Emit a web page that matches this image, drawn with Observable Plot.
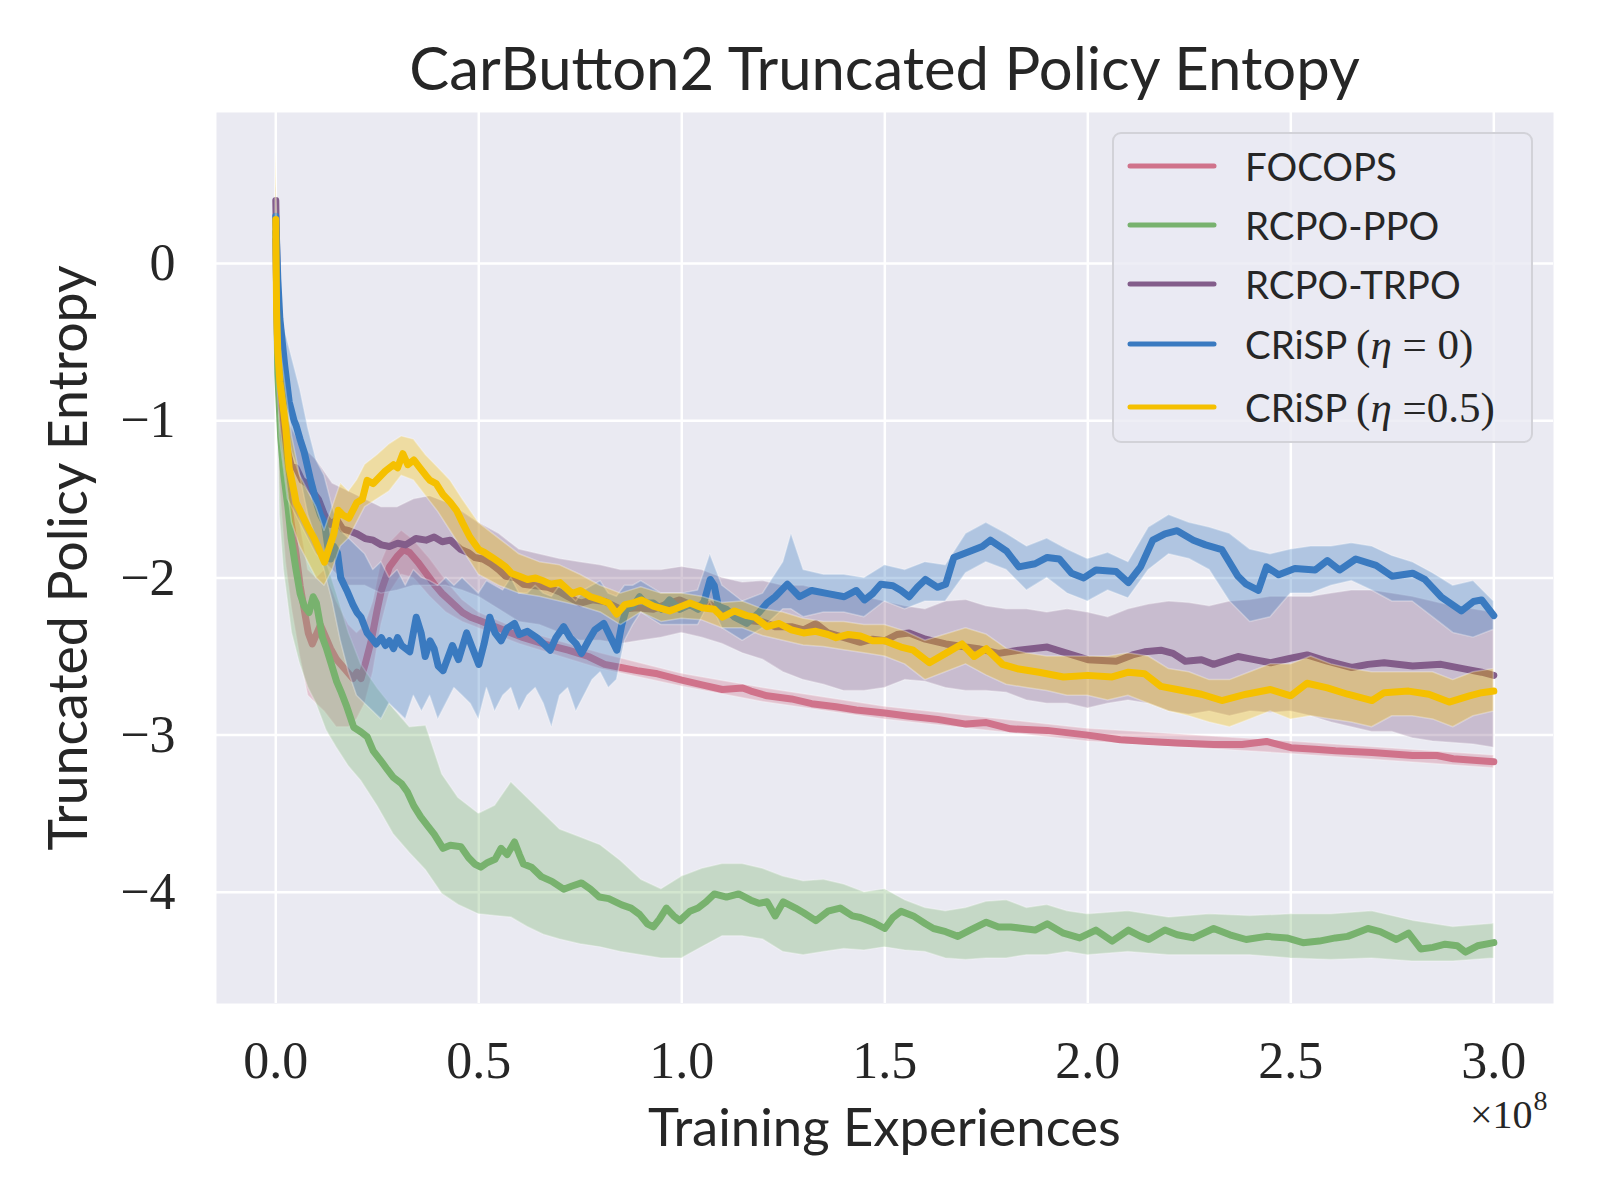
<!DOCTYPE html>
<html><head><meta charset="utf-8">
<script src="https://cdn.jsdelivr.net/npm/d3@7"></script>
<script src="https://cdn.jsdelivr.net/npm/@observablehq/plot@0.6"></script>
<style>
body{margin:0;background:#fff;}
#wrap{position:relative;width:1600px;height:1200px;background:#fff;}
#titlebox{display:block;}
#chart svg{display:block;}
#legend{position:absolute;left:1112px;top:132px;width:421px;height:311px;background:rgba(234,234,242,0.8);border:2px solid #d2d2d8;border-radius:9px;box-sizing:border-box;}
.row{position:absolute;left:0;height:50px;width:100%;}
.row svg{position:absolute;left:13px;top:20px;}
.row .lab{position:absolute;left:131px;top:0;line-height:50px;font-family:Lato,"Noto Sans",sans-serif;color:#262626;white-space:nowrap;}
.m{font-family:"Liberation Serif",serif;font-size:1.12em;}
.mi{font-family:"Liberation Serif",serif;font-style:italic;font-size:1.12em;}
</style></head>
<body>
<div id="wrap">
<svg id="titlebox" width="1600" height="112"><text id="title" x="884.5" y="90" text-anchor="middle" font-family="Lato, 'Noto Sans', sans-serif" font-size="58" fill="#262626">CarButton2 Truncated Policy Entopy</text></svg>
<div id="chart"></div>
<div id="legend"></div>
</div>
<script>
const xTicks = [0, 0.5, 1.0, 1.5, 2.0, 2.5, 3.0];
const yTicks = [0, -1, -2, -3, -4];
const seriesNames = ["FOCOPS", "RCPO-PPO", "RCPO-TRPO", "CRiSP (η = 0)", "CRiSP (η =0.5)"];
const seriesColors = ["#d0738b", "#78b26e", "#835d8a", "#3a7ac0", "#f5c000"];

// [x (×1e8), mean]
const focopsMean = [[0,0.15],[0.004,-0.45],[0.008,-0.8],[0.015,-1.1],[0.025,-1.4],[0.038,-1.65],[0.05,-1.85],[0.06,-2.05],[0.07,-2.2],[0.08,-2.35],[0.09,-2.42],[0.1,-2.36],[0.11,-2.3],[0.12,-2.36],[0.135,-2.45],[0.15,-2.52],[0.17,-2.58],[0.19,-2.64],[0.2,-2.6],[0.21,-2.64],[0.22,-2.55],[0.235,-2.4],[0.25,-2.2],[0.26,-2.08],[0.28,-1.93],[0.3,-1.86],[0.315,-1.82],[0.33,-1.84],[0.35,-1.9],[0.37,-1.97],[0.39,-2.04],[0.41,-2.1],[0.435,-2.16],[0.46,-2.22],[0.48,-2.25],[0.5,-2.27],[0.52,-2.29],[0.56,-2.33],[0.61,-2.38],[0.66,-2.42],[0.72,-2.46],[0.77,-2.5],[0.81,-2.55],[0.85,-2.57],[0.89,-2.59],[0.94,-2.61],[1.0,-2.65],[1.05,-2.68],[1.1,-2.71],[1.15,-2.7],[1.17,-2.72],[1.21,-2.75],[1.27,-2.77],[1.32,-2.8],[1.38,-2.82],[1.43,-2.84],[1.5,-2.86],[1.56,-2.88],[1.63,-2.9],[1.7,-2.93],[1.75,-2.92],[1.81,-2.96],[1.9,-2.97],[2.0,-3.0],[2.08,-3.03],[2.15,-3.04],[2.22,-3.05],[2.31,-3.06],[2.38,-3.06],[2.44,-3.04],[2.5,-3.08],[2.56,-3.09],[2.61,-3.1],[2.7,-3.11],[2.8,-3.13],[2.86,-3.13],[2.9,-3.15],[2.95,-3.16],[3.0,-3.17]];
// [x, lower, upper]
const focopsBand = [[0,-0.3,0.5],[0.01,-1.4,-0.5],[0.025,-1.9,-1.0],[0.04,-2.2,-1.3],[0.06,-2.5,-1.65],[0.08,-2.75,-1.95],[0.1,-2.8,-2.0],[0.12,-2.85,-1.95],[0.15,-2.95,-2.15],[0.18,-2.95,-2.3],[0.2,-2.9,-2.35],[0.22,-2.8,-2.3],[0.24,-2.6,-2.15],[0.26,-2.3,-1.9],[0.28,-2.1,-1.78],[0.31,-1.98,-1.7],[0.34,-2.0,-1.76],[0.38,-2.12,-1.88],[0.42,-2.22,-2.02],[0.46,-2.28,-2.14],[0.5,-2.32,-2.22],[0.6,-2.42,-2.33],[0.8,-2.58,-2.48],[1.0,-2.69,-2.61],[1.2,-2.79,-2.7],[1.5,-2.9,-2.82],[2.0,-3.04,-2.96],[2.5,-3.12,-3.04],[3.0,-3.21,-3.13]];

const ppoMean = [[0,0.2],[0.005,-0.7],[0.012,-1.1],[0.02,-1.35],[0.03,-1.55],[0.038,-1.75],[0.05,-1.95],[0.06,-2.1],[0.07,-2.18],[0.082,-2.22],[0.092,-2.12],[0.1,-2.16],[0.115,-2.38],[0.125,-2.45],[0.137,-2.55],[0.15,-2.66],[0.16,-2.72],[0.175,-2.82],[0.192,-2.95],[0.21,-2.98],[0.225,-3.01],[0.24,-3.1],[0.258,-3.16],[0.275,-3.22],[0.29,-3.27],[0.31,-3.31],[0.324,-3.36],[0.34,-3.45],[0.357,-3.52],[0.375,-3.58],[0.39,-3.63],[0.412,-3.72],[0.43,-3.7],[0.456,-3.71],[0.475,-3.78],[0.49,-3.82],[0.505,-3.84],[0.522,-3.81],[0.54,-3.79],[0.555,-3.72],[0.57,-3.76],[0.588,-3.68],[0.6,-3.76],[0.61,-3.82],[0.63,-3.84],[0.654,-3.9],[0.68,-3.93],[0.709,-3.98],[0.73,-3.96],[0.753,-3.94],[0.775,-3.98],[0.797,-4.03],[0.82,-4.04],[0.852,-4.08],[0.875,-4.1],[0.896,-4.14],[0.915,-4.2],[0.93,-4.22],[0.945,-4.17],[0.962,-4.1],[0.98,-4.15],[0.995,-4.18],[1.02,-4.12],[1.04,-4.1],[1.06,-4.06],[1.08,-4.01],[1.11,-4.03],[1.14,-4.01],[1.17,-4.05],[1.19,-4.07],[1.21,-4.06],[1.23,-4.15],[1.25,-4.06],[1.28,-4.1],[1.3,-4.13],[1.33,-4.18],[1.36,-4.12],[1.39,-4.1],[1.42,-4.15],[1.44,-4.16],[1.47,-4.19],[1.5,-4.23],[1.52,-4.16],[1.54,-4.12],[1.57,-4.15],[1.6,-4.2],[1.62,-4.23],[1.65,-4.25],[1.68,-4.28],[1.71,-4.24],[1.75,-4.19],[1.78,-4.22],[1.81,-4.22],[1.84,-4.23],[1.87,-4.24],[1.9,-4.2],[1.94,-4.26],[1.98,-4.29],[2.02,-4.24],[2.06,-4.31],[2.1,-4.24],[2.13,-4.28],[2.15,-4.3],[2.19,-4.24],[2.22,-4.27],[2.26,-4.29],[2.31,-4.23],[2.35,-4.27],[2.39,-4.3],[2.44,-4.28],[2.49,-4.29],[2.53,-4.32],[2.57,-4.31],[2.61,-4.29],[2.64,-4.28],[2.69,-4.23],[2.72,-4.25],[2.76,-4.3],[2.79,-4.26],[2.82,-4.36],[2.85,-4.35],[2.88,-4.33],[2.91,-4.34],[2.93,-4.38],[2.96,-4.34],[3.0,-4.32]];
const ppoBand = [[0,-0.3,0.5],[0.01,-1.6,-0.6],[0.02,-1.95,-1.0],[0.04,-2.35,-1.35],[0.06,-2.55,-1.6],[0.08,-2.7,-1.7],[0.1,-2.8,-1.75],[0.125,-2.97,-1.9],[0.15,-3.08,-2.1],[0.18,-3.2,-2.35],[0.21,-3.29,-2.55],[0.25,-3.45,-2.7],[0.29,-3.63,-2.83],[0.33,-3.75,-2.95],[0.37,-3.86,-2.94],[0.41,-4.01,-3.25],[0.45,-4.08,-3.4],[0.5,-4.14,-3.5],[0.54,-4.15,-3.45],[0.58,-4.16,-3.3],[0.62,-4.22,-3.4],[0.66,-4.27,-3.5],[0.7,-4.3,-3.6],[0.75,-4.33,-3.65],[0.8,-4.35,-3.7],[0.85,-4.38,-3.8],[0.9,-4.4,-3.92],[0.95,-4.42,-3.98],[1.0,-4.42,-3.9],[1.05,-4.35,-3.85],[1.1,-4.28,-3.82],[1.15,-4.28,-3.82],[1.2,-4.3,-3.85],[1.25,-4.38,-3.9],[1.3,-4.4,-3.93],[1.35,-4.38,-3.92],[1.4,-4.36,-3.95],[1.45,-4.37,-4.0],[1.5,-4.35,-3.98],[1.55,-4.37,-4.05],[1.6,-4.38,-4.1],[1.65,-4.42,-4.12],[1.7,-4.43,-4.1],[1.75,-4.42,-4.06],[1.8,-4.42,-4.05],[1.85,-4.4,-4.1],[1.9,-4.4,-4.08],[1.95,-4.38,-4.12],[2.0,-4.4,-4.14],[2.1,-4.38,-4.12],[2.2,-4.4,-4.16],[2.3,-4.4,-4.14],[2.4,-4.4,-4.15],[2.5,-4.42,-4.14],[2.6,-4.43,-4.14],[2.7,-4.42,-4.12],[2.8,-4.44,-4.18],[2.9,-4.44,-4.22],[3.0,-4.42,-4.2]];

const trpoMean = [[0,0.4],[0.004,-0.2],[0.008,-0.6],[0.014,-0.9],[0.02,-1.05],[0.03,-1.2],[0.038,-1.29],[0.05,-1.3],[0.065,-1.38],[0.077,-1.4],[0.09,-1.45],[0.105,-1.5],[0.12,-1.6],[0.135,-1.66],[0.15,-1.63],[0.165,-1.69],[0.18,-1.7],[0.2,-1.72],[0.22,-1.75],[0.24,-1.76],[0.26,-1.79],[0.28,-1.8],[0.3,-1.78],[0.32,-1.79],[0.345,-1.75],[0.37,-1.76],[0.39,-1.74],[0.41,-1.77],[0.43,-1.76],[0.456,-1.82],[0.475,-1.84],[0.49,-1.87],[0.51,-1.88],[0.53,-1.91],[0.55,-1.95],[0.566,-1.99],[0.59,-2.0],[0.61,-2.04],[0.64,-2.05],[0.67,-2.06],[0.7,-2.09],[0.72,-2.12],[0.75,-2.16],[0.78,-2.14],[0.81,-2.15],[0.85,-2.2],[0.89,-2.19],[0.93,-2.2],[0.96,-2.17],[0.995,-2.14],[1.03,-2.18],[1.07,-2.17],[1.1,-2.23],[1.13,-2.22],[1.16,-2.27],[1.2,-2.28],[1.23,-2.31],[1.27,-2.31],[1.3,-2.33],[1.33,-2.29],[1.36,-2.35],[1.4,-2.38],[1.44,-2.41],[1.47,-2.39],[1.5,-2.4],[1.53,-2.36],[1.56,-2.35],[1.6,-2.39],[1.65,-2.42],[1.7,-2.44],[1.73,-2.45],[1.78,-2.48],[1.83,-2.46],[1.9,-2.44],[1.95,-2.48],[2.0,-2.52],[2.07,-2.53],[2.11,-2.49],[2.14,-2.47],[2.18,-2.46],[2.21,-2.48],[2.24,-2.53],[2.28,-2.52],[2.31,-2.55],[2.37,-2.5],[2.41,-2.52],[2.45,-2.54],[2.5,-2.51],[2.54,-2.49],[2.59,-2.53],[2.65,-2.57],[2.69,-2.55],[2.73,-2.54],[2.8,-2.56],[2.87,-2.55],[2.93,-2.58],[2.97,-2.6],[3.0,-2.62]];
const trpoBand = [[0,0.2,0.55],[0.01,-1.1,-0.4],[0.03,-1.5,-1.0],[0.06,-1.65,-1.15],[0.1,-1.85,-1.25],[0.14,-1.95,-1.4],[0.18,-2.05,-1.45],[0.22,-2.05,-1.5],[0.26,-2.1,-1.55],[0.3,-2.08,-1.55],[0.34,-2.05,-1.5],[0.38,-2.05,-1.48],[0.42,-2.05,-1.52],[0.46,-2.08,-1.58],[0.5,-2.12,-1.65],[0.55,-2.2,-1.72],[0.6,-2.28,-1.82],[0.65,-2.3,-1.85],[0.7,-2.35,-1.88],[0.75,-2.4,-1.9],[0.8,-2.4,-1.92],[0.85,-2.42,-1.95],[0.9,-2.4,-1.95],[0.95,-2.38,-1.95],[1.0,-2.35,-1.93],[1.05,-2.38,-1.95],[1.1,-2.42,-2.0],[1.15,-2.48,-2.03],[1.2,-2.52,-2.02],[1.25,-2.6,-2.05],[1.3,-2.65,-2.05],[1.35,-2.68,-2.08],[1.4,-2.72,-2.1],[1.45,-2.72,-2.12],[1.5,-2.7,-2.15],[1.55,-2.65,-2.18],[1.6,-2.66,-2.2],[1.65,-2.7,-2.15],[1.7,-2.72,-2.14],[1.75,-2.72,-2.18],[1.8,-2.73,-2.2],[1.85,-2.78,-2.2],[1.9,-2.8,-2.22],[1.95,-2.8,-2.2],[2.0,-2.83,-2.22],[2.05,-2.8,-2.25],[2.1,-2.78,-2.2],[2.15,-2.8,-2.17],[2.2,-2.85,-2.15],[2.25,-2.87,-2.16],[2.3,-2.85,-2.18],[2.35,-2.88,-2.15],[2.4,-2.85,-2.14],[2.45,-2.86,-2.12],[2.5,-2.85,-2.12],[2.55,-2.88,-2.12],[2.6,-2.92,-2.1],[2.65,-2.95,-2.08],[2.7,-2.98,-2.08],[2.75,-2.98,-2.1],[2.8,-3.02,-2.12],[2.85,-3.04,-2.15],[2.9,-3.05,-2.18],[2.95,-3.06,-2.2],[3.0,-3.08,-2.22]];

const crisp0Mean = [[0,0.3],[0.005,-0.1],[0.01,-0.35],[0.016,-0.5],[0.022,-0.65],[0.033,-0.88],[0.045,-1.0],[0.05,-1.03],[0.06,-1.12],[0.07,-1.2],[0.086,-1.38],[0.1,-1.52],[0.11,-1.6],[0.12,-1.65],[0.128,-1.8],[0.135,-1.88],[0.143,-1.8],[0.152,-1.84],[0.16,-2.0],[0.175,-2.08],[0.19,-2.17],[0.2,-2.22],[0.21,-2.25],[0.225,-2.35],[0.235,-2.38],[0.247,-2.42],[0.26,-2.38],[0.27,-2.43],[0.28,-2.4],[0.29,-2.45],[0.3,-2.38],[0.31,-2.43],[0.33,-2.47],[0.346,-2.25],[0.358,-2.35],[0.368,-2.5],[0.38,-2.4],[0.39,-2.45],[0.4,-2.56],[0.412,-2.59],[0.425,-2.5],[0.435,-2.43],[0.45,-2.52],[0.47,-2.35],[0.485,-2.45],[0.5,-2.55],[0.513,-2.42],[0.527,-2.25],[0.54,-2.35],[0.555,-2.4],[0.57,-2.32],[0.588,-2.29],[0.6,-2.36],[0.62,-2.34],[0.643,-2.38],[0.66,-2.42],[0.676,-2.46],[0.69,-2.38],[0.709,-2.31],[0.725,-2.38],[0.74,-2.42],[0.753,-2.48],[0.77,-2.4],[0.786,-2.33],[0.808,-2.29],[0.825,-2.38],[0.84,-2.46],[0.852,-2.3],[0.863,-2.2],[0.88,-2.18],[0.896,-2.12],[0.91,-2.16],[0.93,-2.16],[0.95,-2.2],[0.97,-2.14],[0.995,-2.2],[1.02,-2.17],[1.04,-2.2],[1.055,-2.15],[1.07,-2.01],[1.08,-2.05],[1.09,-2.18],[1.11,-2.2],[1.13,-2.25],[1.16,-2.29],[1.19,-2.22],[1.21,-2.16],[1.23,-2.12],[1.26,-2.04],[1.29,-2.12],[1.32,-2.08],[1.36,-2.1],[1.4,-2.12],[1.43,-2.08],[1.45,-2.14],[1.47,-2.1],[1.49,-2.04],[1.52,-2.05],[1.54,-2.08],[1.56,-2.12],[1.58,-2.06],[1.6,-2.01],[1.63,-2.06],[1.65,-2.04],[1.67,-1.87],[1.71,-1.83],[1.74,-1.8],[1.76,-1.76],[1.8,-1.83],[1.83,-1.93],[1.87,-1.91],[1.9,-1.87],[1.93,-1.88],[1.96,-1.97],[1.99,-2.0],[2.02,-1.95],[2.07,-1.96],[2.1,-2.03],[2.13,-1.93],[2.16,-1.76],[2.19,-1.72],[2.22,-1.7],[2.26,-1.76],[2.29,-1.79],[2.33,-1.82],[2.37,-1.99],[2.39,-2.04],[2.42,-2.08],[2.44,-1.93],[2.47,-1.98],[2.51,-1.94],[2.56,-1.95],[2.59,-1.89],[2.62,-1.95],[2.66,-1.88],[2.71,-1.92],[2.75,-1.99],[2.8,-1.97],[2.83,-2.01],[2.87,-2.12],[2.92,-2.21],[2.95,-2.15],[2.97,-2.14],[3.0,-2.24]];
const crisp0Band = [[0,0.1,0.45],[0.01,-0.6,-0.1],[0.02,-0.9,-0.4],[0.04,-1.2,-0.6],[0.06,-1.35,-0.8],[0.08,-1.6,-1.05],[0.1,-1.75,-1.25],[0.12,-1.95,-1.35],[0.14,-2.15,-1.55],[0.16,-2.4,-1.7],[0.18,-2.6,-1.75],[0.2,-2.75,-1.8],[0.22,-2.8,-1.85],[0.24,-2.85,-1.95],[0.26,-2.9,-1.9],[0.28,-2.8,-2.0],[0.3,-2.85,-1.95],[0.32,-2.9,-2.05],[0.34,-2.75,-1.95],[0.36,-2.85,-2.0],[0.38,-2.75,-2.02],[0.4,-2.9,-2.05],[0.42,-2.8,-2.0],[0.44,-2.7,-2.05],[0.46,-2.75,-2.0],[0.48,-2.8,-2.05],[0.5,-2.9,-2.1],[0.52,-2.7,-2.02],[0.54,-2.85,-2.05],[0.56,-2.75,-2.08],[0.58,-2.7,-2.0],[0.6,-2.85,-2.1],[0.62,-2.75,-2.1],[0.64,-2.7,-2.05],[0.66,-2.8,-2.1],[0.68,-2.95,-2.12],[0.7,-2.75,-2.05],[0.72,-2.7,-2.1],[0.74,-2.85,-2.15],[0.76,-2.75,-2.08],[0.78,-2.65,-2.05],[0.8,-2.6,-2.02],[0.82,-2.7,-2.1],[0.84,-2.65,-2.12],[0.86,-2.4,-2.05],[0.88,-2.3,-2.05],[0.9,-2.22,-2.02],[0.95,-2.3,-2.1],[1.0,-2.3,-2.1],[1.04,-2.3,-2.08],[1.07,-2.15,-1.85],[1.1,-2.32,-2.05],[1.15,-2.4,-2.15],[1.2,-2.32,-2.1],[1.25,-2.2,-1.9],[1.27,-2.2,-1.72],[1.3,-2.25,-1.95],[1.35,-2.22,-1.98],[1.4,-2.22,-1.98],[1.45,-2.25,-2.0],[1.5,-2.15,-1.92],[1.55,-2.2,-1.95],[1.6,-2.15,-1.9],[1.65,-2.15,-1.92],[1.7,-1.97,-1.72],[1.75,-1.9,-1.65],[1.8,-1.95,-1.72],[1.85,-2.08,-1.8],[1.9,-2.0,-1.75],[1.95,-2.1,-1.82],[2.0,-2.15,-1.88],[2.05,-2.08,-1.84],[2.1,-2.13,-1.9],[2.15,-1.95,-1.68],[2.2,-1.85,-1.6],[2.25,-1.88,-1.65],[2.3,-1.95,-1.68],[2.35,-2.15,-1.72],[2.4,-2.28,-1.82],[2.45,-2.25,-1.85],[2.5,-2.1,-1.82],[2.55,-2.1,-1.8],[2.6,-2.05,-1.8],[2.65,-2.02,-1.78],[2.7,-2.08,-1.8],[2.75,-2.15,-1.86],[2.8,-2.15,-1.9],[2.85,-2.25,-1.97],[2.9,-2.35,-2.05],[2.95,-2.38,-2.02],[3.0,-2.33,-2.15]];

const crisp05Mean = [[0,0.28],[0.002,-0.3],[0.005,-0.56],[0.01,-0.75],[0.02,-0.95],[0.025,-1.06],[0.033,-1.3],[0.045,-1.45],[0.05,-1.52],[0.065,-1.6],[0.08,-1.68],[0.095,-1.75],[0.11,-1.84],[0.12,-1.9],[0.13,-1.82],[0.143,-1.72],[0.154,-1.57],[0.165,-1.6],[0.18,-1.62],[0.2,-1.52],[0.213,-1.5],[0.225,-1.38],[0.24,-1.4],[0.255,-1.36],[0.27,-1.32],[0.29,-1.28],[0.3,-1.3],[0.313,-1.21],[0.325,-1.28],[0.34,-1.25],[0.355,-1.3],[0.37,-1.35],[0.38,-1.38],[0.395,-1.4],[0.412,-1.47],[0.43,-1.52],[0.445,-1.57],[0.46,-1.65],[0.478,-1.74],[0.5,-1.82],[0.515,-1.84],[0.533,-1.87],[0.55,-1.9],[0.566,-1.93],[0.58,-1.97],[0.6,-1.99],[0.62,-2.01],[0.64,-2.0],[0.66,-2.02],[0.676,-2.04],[0.7,-2.03],[0.73,-2.1],[0.75,-2.08],[0.775,-2.12],[0.8,-2.14],[0.82,-2.16],[0.84,-2.23],[0.86,-2.17],[0.88,-2.16],[0.9,-2.14],[0.93,-2.18],[0.97,-2.21],[1.0,-2.18],[1.02,-2.16],[1.05,-2.19],[1.08,-2.2],[1.1,-2.25],[1.13,-2.21],[1.16,-2.24],[1.18,-2.25],[1.21,-2.31],[1.24,-2.29],[1.27,-2.33],[1.3,-2.35],[1.33,-2.34],[1.36,-2.36],[1.38,-2.38],[1.41,-2.36],[1.44,-2.37],[1.47,-2.4],[1.5,-2.4],[1.52,-2.42],[1.54,-2.44],[1.57,-2.46],[1.61,-2.54],[1.65,-2.48],[1.69,-2.42],[1.72,-2.5],[1.75,-2.45],[1.79,-2.55],[1.83,-2.58],[1.88,-2.6],[1.94,-2.63],[2.0,-2.62],[2.06,-2.63],[2.1,-2.6],[2.14,-2.61],[2.18,-2.69],[2.22,-2.71],[2.28,-2.74],[2.33,-2.78],[2.39,-2.74],[2.45,-2.71],[2.5,-2.75],[2.54,-2.67],[2.59,-2.7],[2.64,-2.74],[2.7,-2.78],[2.73,-2.73],[2.79,-2.72],[2.84,-2.74],[2.89,-2.79],[2.94,-2.75],[2.97,-2.73],[3.0,-2.72]];
const crisp05Band = [[0,-0.2,0.72],[0.005,-0.8,0.0],[0.01,-1.0,-0.5],[0.02,-1.25,-0.7],[0.04,-1.65,-1.1],[0.06,-1.8,-1.35],[0.08,-1.9,-1.45],[0.1,-2.0,-1.55],[0.12,-2.05,-1.7],[0.14,-1.95,-1.55],[0.16,-1.8,-1.4],[0.18,-1.75,-1.45],[0.2,-1.65,-1.38],[0.22,-1.55,-1.28],[0.25,-1.5,-1.22],[0.28,-1.45,-1.15],[0.31,-1.35,-1.1],[0.34,-1.38,-1.12],[0.37,-1.48,-1.22],[0.4,-1.58,-1.3],[0.43,-1.7,-1.38],[0.46,-1.82,-1.5],[0.5,-1.98,-1.65],[0.55,-2.05,-1.75],[0.6,-2.1,-1.85],[0.65,-2.12,-1.9],[0.7,-2.15,-1.92],[0.75,-2.18,-1.98],[0.8,-2.22,-2.05],[0.85,-2.3,-2.1],[0.9,-2.22,-2.06],[0.95,-2.28,-2.1],[1.0,-2.26,-2.1],[1.05,-2.27,-2.12],[1.1,-2.32,-2.16],[1.15,-2.32,-2.15],[1.2,-2.37,-2.2],[1.25,-2.4,-2.22],[1.3,-2.43,-2.26],[1.35,-2.44,-2.28],[1.4,-2.46,-2.28],[1.45,-2.48,-2.3],[1.5,-2.5,-2.3],[1.55,-2.55,-2.34],[1.6,-2.65,-2.4],[1.65,-2.6,-2.36],[1.7,-2.55,-2.32],[1.75,-2.62,-2.36],[1.8,-2.68,-2.45],[1.85,-2.7,-2.48],[1.9,-2.72,-2.5],[1.95,-2.75,-2.5],[2.0,-2.75,-2.5],[2.05,-2.78,-2.5],[2.1,-2.75,-2.48],[2.15,-2.8,-2.5],[2.2,-2.85,-2.58],[2.25,-2.88,-2.6],[2.3,-2.92,-2.65],[2.35,-2.95,-2.65],[2.4,-2.9,-2.6],[2.45,-2.85,-2.55],[2.5,-2.9,-2.55],[2.55,-2.88,-2.5],[2.6,-2.9,-2.55],[2.65,-2.92,-2.58],[2.7,-2.95,-2.6],[2.75,-2.88,-2.6],[2.8,-2.88,-2.6],[2.85,-2.9,-2.6],[2.9,-2.95,-2.65],[2.95,-2.88,-2.6],[3.0,-2.85,-2.58]];

const means = [focopsMean, ppoMean, trpoMean, crisp0Mean, crisp05Mean];
const bands = [focopsBand, ppoBand, trpoBand, crisp0Band, crisp05Band];

const seriesMarks = [];
means.forEach((m, i) => {
  seriesMarks.push(Plot.areaY(bands[i], {x: d => d[0], y1: d => d[1], y2: d => d[2], fill: seriesColors[i], fillOpacity: 0.33, stroke: "white", strokeOpacity: 0.3, strokeWidth: 1.5}));
  seriesMarks.push(Plot.line(m, {x: d => d[0], y: d => d[1], stroke: seriesColors[i], strokeWidth: 7, strokeLinejoin: "round", strokeLinecap: "round"}));
});

const fmtY = d => d < 0 ? "\u2212" + Math.abs(d) : String(d);

const chart = Plot.plot({
  width: 1600, height: 1088,
  marginTop: 0, marginBottom: 197, marginLeft: 216, marginRight: 47,
  x: {domain: [-0.146, 3.147]},
  y: {domain: [-4.707, 0.96]},
  style: {background: "transparent", fontFamily: "'Liberation Serif', serif", color: "#262626", overflow: "visible"},
  marks: [
    Plot.frame({fill: "#eaeaf2", stroke: null}),
    Plot.gridX(xTicks, {stroke: "white", strokeOpacity: 1, strokeWidth: 2.5}),
    Plot.gridY(yTicks, {stroke: "white", strokeOpacity: 1, strokeWidth: 2.5}),
    ...seriesMarks,
    Plot.axisX(xTicks, {tickSize: 0, tickPadding: 38, fontSize: 52, tickFormat: d => d.toFixed(1), label: null, fill: "#262626"}),
    Plot.axisY(yTicks, {tickSize: 0, tickPadding: 41, fontSize: 52, tickFormat: fmtY, label: null, fill: "#262626"})
  ]
});
document.getElementById("chart").appendChild(chart);

const svg = d3.select(chart);
const sans = "Lato, 'Noto Sans', sans-serif";
const xl = svg.append("text").attr("x", 884.5).attr("y", 1034).attr("text-anchor", "middle")
  .attr("font-family", sans).attr("font-size", 52).attr("fill", "#262626").text("Training Experiences");
const yl = svg.append("text").attr("transform", "translate(87,446) rotate(-90)").attr("text-anchor", "middle")
  .attr("font-family", sans).attr("font-size", 52).attr("fill", "#262626").text("Truncated Policy Entropy");
const mult = svg.append("text").attr("x", 1470).attr("y", 1016).attr("text-anchor", "start")
  .attr("font-family", "'Liberation Serif', serif").attr("font-size", 40).attr("fill", "#262626").text("\u00d710");
const multW = mult.node().getComputedTextLength();
svg.append("text").attr("x", 1470 + multW + 1).attr("y", 998).attr("text-anchor", "start")
  .attr("font-family", "'Liberation Serif', serif").attr("font-size", 28).attr("fill", "#262626").text("8");

function fit(node, target) {
  const w = node.getComputedTextLength();
  const fs = parseFloat(node.getAttribute("font-size"));
  node.setAttribute("font-size", (fs * target / w).toFixed(1));
}
fit(xl.node(), 473);
fit(yl.node(), 585);
fit(document.getElementById("title"), 950);

// legend
const legend = d3.select("#legend");
const rowTops = [7, 66, 125, 185, 248];
const labelsHtml = [
  "FOCOPS", "RCPO-PPO", "RCPO-TRPO",
  "CRiSP <span class='m'>(</span><span class='mi'>η</span><span class='m'> = 0)</span>",
  "CRiSP <span class='m'>(</span><span class='mi'>η</span><span class='m'> =0.5)</span>"
];
seriesNames.forEach((name, i) => {
  const row = legend.append("div").attr("class", "row").style("top", rowTops[i] + "px");
  const s = row.append("svg").attr("width", 90).attr("height", 10);
  s.append("line").attr("x1", 3).attr("x2", 87).attr("y1", 5).attr("y2", 5).attr("stroke", seriesColors[i]).attr("stroke-width", 5).attr("stroke-linecap", "round");
  row.append("div").attr("class", "lab").attr("title", name).html(labelsHtml[i]);
});
const probe = document.querySelector("#legend .lab");
probe.style.fontSize = "39px";
const pw = probe.getBoundingClientRect().width;
const lfs = 39 * 152 / pw;
document.querySelectorAll("#legend .lab").forEach(el => { el.style.fontSize = lfs.toFixed(1) + "px"; });
</script>
</body></html>
